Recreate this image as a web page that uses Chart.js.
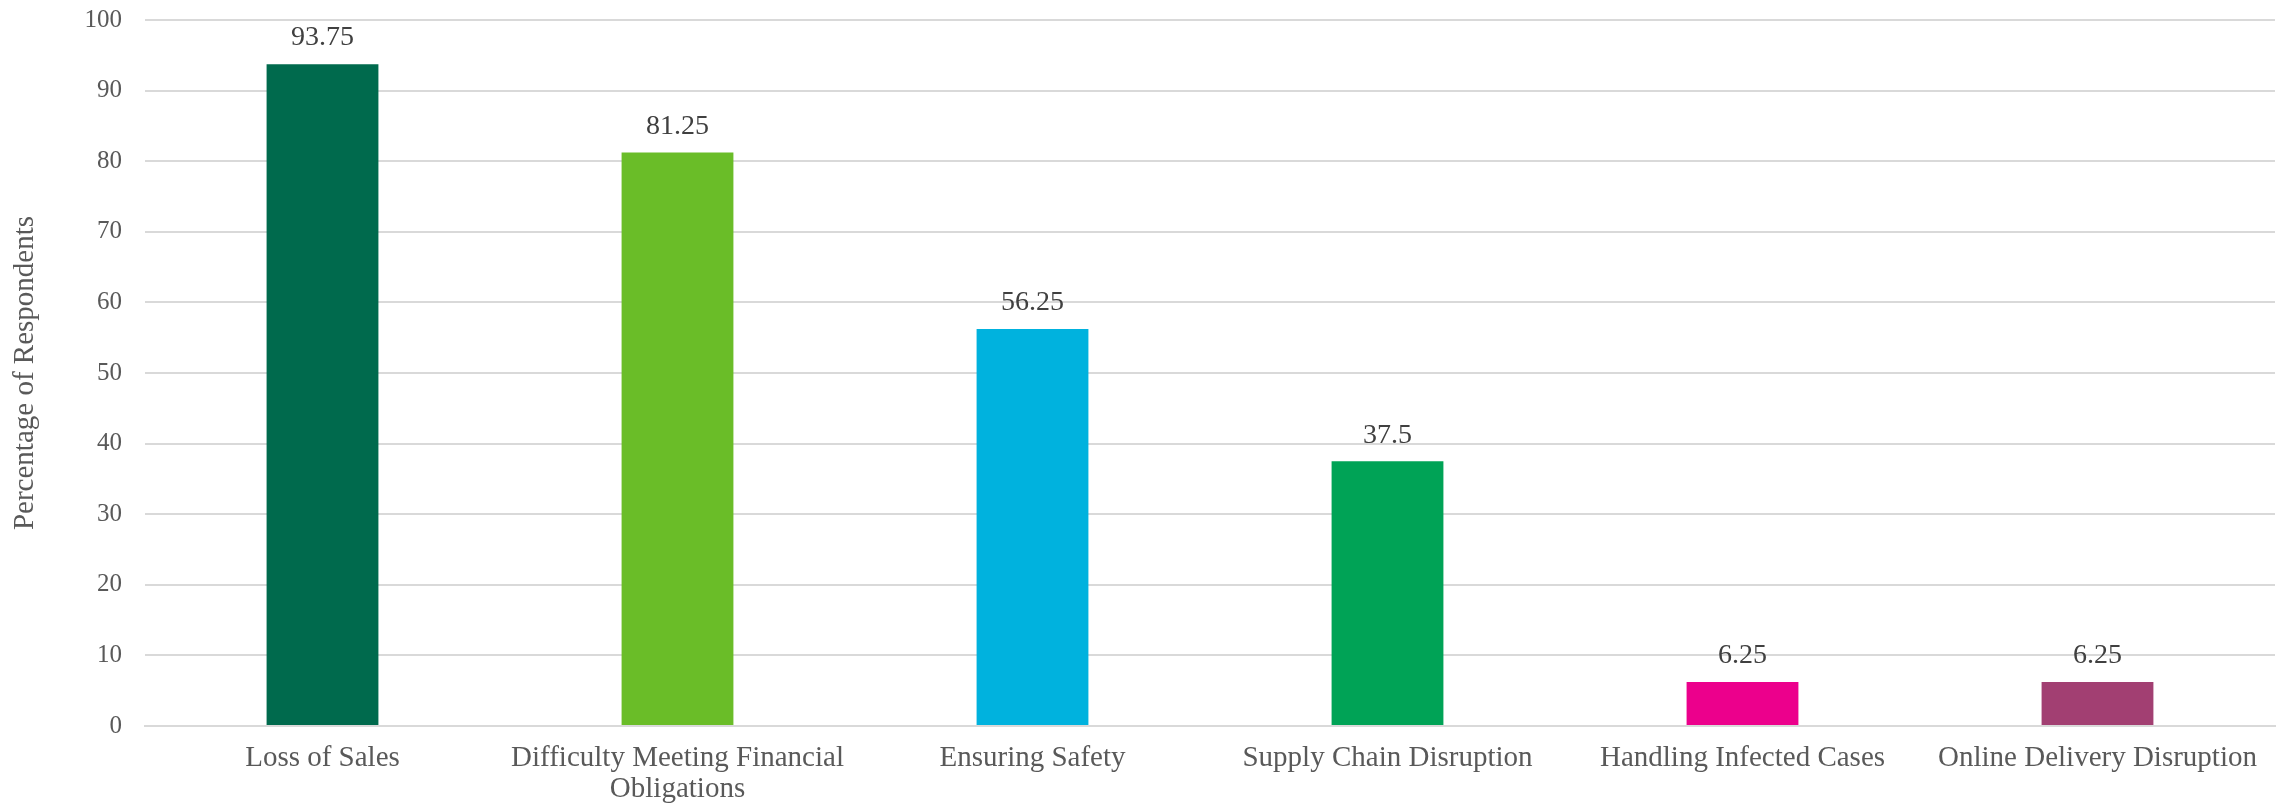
<!DOCTYPE html>
<html>
<head>
<meta charset="utf-8">
<script src="https://cdn.jsdelivr.net/npm/chart.js@4"></script>
<style>
    html, body { margin: 0; padding: 0; background: #fff; }
    #wrap { width: 2287px; height: 803px; }
</style>
</head>
<body>
<div id="wrap"><canvas id="challengesChart" width="2287" height="803"></canvas></div>
<script>
const categories = [
    'Loss of Sales',
    ['Difficulty Meeting Financial', 'Obligations'],
    'Ensuring Safety',
    'Supply Chain Disruption',
    'Handling Infected Cases',
    'Online Delivery Disruption'
];
const percentages = [93.75, 81.25, 56.25, 37.5, 6.25, 6.25];
const barColors = ['#006a4d', '#6abd28', '#00b2de', '#00a356', '#ec008c', '#a23f72'];
const yTicks = [0, 10, 20, 30, 40, 50, 60, 70, 80, 90, 100];

const FONT = "'Liberation Serif', 'DejaVu Serif', serif";

// value labels above each bar
const barValueLabels = {
    id: 'barValueLabels',
    afterDatasetsDraw(chart) {
        const ctx = chart.ctx;
        const meta = chart.getDatasetMeta(0);
        ctx.save();
        ctx.font = `28px ${FONT}`;
        ctx.fillStyle = '#404040';
        ctx.textAlign = 'center';
        ctx.textBaseline = 'middle';
        meta.data.forEach((bar, i) => {
            ctx.fillText(String(percentages[i]), bar.x, bar.y - 26);
        });
        ctx.restore();
    }
};

const ctx = document.getElementById('challengesChart').getContext('2d');

new Chart(ctx, {
    type: 'bar',
    data: {
        labels: categories,
        datasets: [{
            data: percentages,
            backgroundColor: barColors,
            categoryPercentage: 1,
            barPercentage: 0.315
        }]
    },
    options: {
        responsive: false,
        animation: false,
        layout: { padding: { top: 0, right: 12, left: 0, bottom: 0 } },
        plugins: {
            legend: { display: false },
            tooltip: { enabled: false }
        },
        scales: {
            x: {
                grid: { display: false },
                border: { display: true, color: '#d9d9d9', width: 2 },
                ticks: {
                    color: '#595959',
                    font: { family: FONT, size: 29, lineHeight: 1.07 },
                    maxRotation: 0,
                    autoSkip: false,
                    padding: 9
                },
                afterFit: scale => { scale.height = 77; }
            },
            y: {
                min: 0,
                max: 100,
                afterBuildTicks: scale => { scale.ticks = yTicks.map(v => ({ value: v })); },
                grid: { color: '#d9d9d9', lineWidth: 2, drawTicks: false },
                border: { display: false },
                ticks: {
                    color: '#595959',
                    font: { family: FONT, size: 25, lineHeight: 1 },
                    padding: 23
                },
                title: {
                    display: true,
                    text: 'Percentage of Respondents',
                    color: '#595959',
                    font: { family: FONT, size: 29 },
                    padding: { top: 8, bottom: 0 }
                },
                afterFit: scale => {
                    scale.width = 145;
                    scale.paddingTop = 20;
                    scale.paddingBottom = 0;
                }
            }
        }
    },
    plugins: [barValueLabels]
});
</script>
</body>
</html>
